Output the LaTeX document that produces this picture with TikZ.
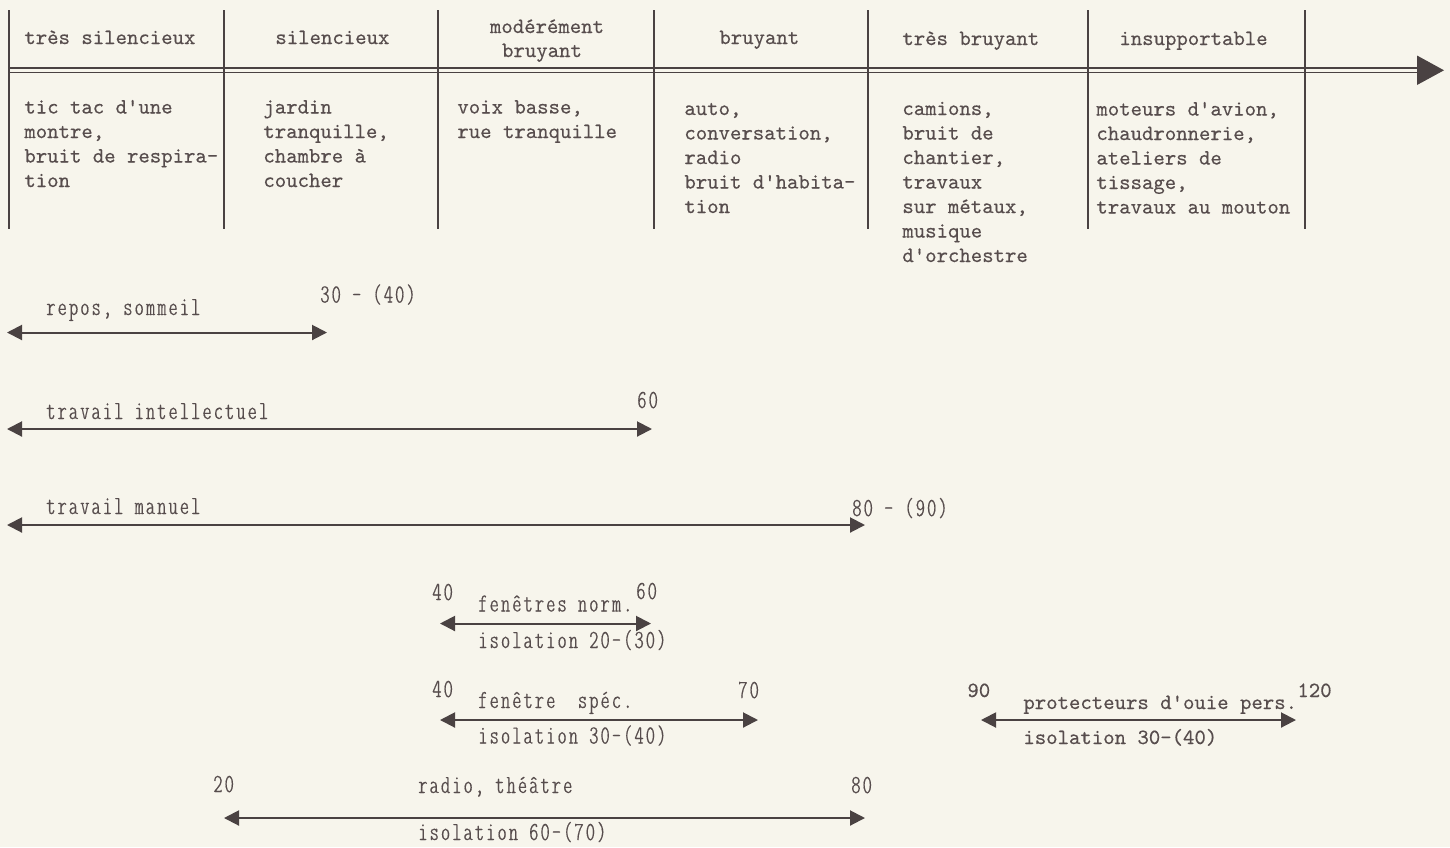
\documentclass[tikz,border=0pt]{standalone}
\usepackage{fontspec}
\usetikzlibrary{arrows.meta}
\newfontfamily\twfont[FakeBold=0.35]{lmmono10-regular.otf}
\newfontfamily\cnfont[FakeBold=0.45,LetterSpace=8.5]{lmmonoltcond10-regular.otf}
\definecolor{paper}{HTML}{F7F5EC}
\definecolor{ink}{HTML}{4A4242}
\definecolor{txt}{HTML}{574D4D}
\tikzset{
  tw/.style={font=\twfont\fontsize{10.86}{12}\selectfont, text=txt, inner sep=0pt, anchor=base west},
  cn/.style={font=\cnfont\fontsize{13}{15}\selectfont, text=txt, inner sep=0pt, anchor=base west},
  colline/.style={draw=ink, line width=0.75pt},
  axisline/.style={draw=ink, line width=0.75pt},
  spanarrow/.style={draw=ink, line width=1pt, {Triangle[length=7.5pt,width=7.5pt]}-{Triangle[length=7.5pt,width=7.5pt]}},
}
\begin{document}
\begin{tikzpicture}[x=0.5pt,y=-0.5pt]
\fill[paper] (0,0) rectangle (1450,847);
\useasboundingbox (0,0) rectangle (1450,847);

% column separators
\foreach \x [count=\i] in {9,224,438,654,868,1088,1305} {
  \coordinate (vt\i) at (\x,10);
  \coordinate (vb\i) at (\x,229);
  \draw[colline] (vt\i) -- (vb\i);
}

% double axis with arrow
\coordinate (axa1) at (9,68);   \coordinate (axb1) at (1420,68);
\coordinate (axa2) at (9,72.5); \coordinate (axb2) at (1420,72.5);
\draw[axisline] (axa1) -- (axb1);
\draw[axisline] (axa2) -- (axb2);
\coordinate (tipA) at (1444,70.3);
\coordinate (tipB) at (1417,55.5);
\coordinate (tipC) at (1417,85);
\fill[ink] (tipA) -- (tipB) -- (tipC) -- cycle;

% header
\node[tw] (h1) at (24,44) {très silencieux};
\node[tw] (h2) at (275,44) {silencieux};
\node[tw,anchor=base] (h3a) at (547,33) {modérément};
\node[tw,anchor=base] (h3b) at (542,57) {bruyant};
\node[tw] (h4) at (719,44) {bruyant};
\node[tw] (h5) at (902,45) {très bruyant};
\node[tw] (h6) at (1119,45) {insupportable};

% body columns
\foreach \t [count=\i] in {{tic tac d'une},{montre,},{bruit de respira-},{tion}}
  \node[tw] (b1-\i) at (24,{113.5+24.5*(\i-1)}) {\t};
\foreach \t [count=\i] in {{jardin},{tranquille,},{chambre à},{coucher}}
  \node[tw] (b2-\i) at (263,{113.5+24.5*(\i-1)}) {\t};
\foreach \t [count=\i] in {{voix basse,},{rue tranquille}}
  \node[tw] (b3-\i) at (457,{113.5+24.5*(\i-1)}) {\t};
\foreach \t [count=\i] in {{auto,},{conversation,},{radio},{bruit d'habita-},{tion}}
  \node[tw] (b4-\i) at (684,{115+24.5*(\i-1)}) {\t};
\foreach \t [count=\i] in {{camions,},{bruit de},{chantier,},{travaux},{sur métaux,},{musique},{d'orchestre}}
  \node[tw] (b5-\i) at (902,{115+24.5*(\i-1)}) {\t};
\foreach \t [count=\i] in {{moteurs d'avion,},{chaudronnerie,},{ateliers de},{tissage,},{travaux au mouton}}
  \node[tw] (b6-\i) at (1096,{115.5+24.5*(\i-1)}) {\t};

% repos, sommeil
\node[cn] (l1) at (46,315) {repos, sommeil};
\node[cn] (n1) at (320,302.5) {30 - (40)};
\coordinate (s1a) at (7,332.5); \coordinate (s1b) at (327,332.5);
\draw[spanarrow] (s1a) -- (s1b);

% travail intellectuel
\node[cn] (l2) at (46,419) {travail intellectuel};
\node[cn] (n2) at (637,408) {60};
\coordinate (s2a) at (7,429); \coordinate (s2b) at (652,429);
\draw[spanarrow] (s2a) -- (s2b);

% travail manuel
\node[cn] (l3) at (46,514) {travail manuel};
\node[cn] (n3) at (852,516) {80 - (90)};
\coordinate (s3a) at (7,525); \coordinate (s3b) at (865,525);
\draw[spanarrow] (s3a) -- (s3b);

% fenetres norm.
\node[cn] (n4a) at (432,600) {40};
\node[cn] (n4b) at (636,599) {60};
\node[cn] (l4) at (478,611.5) {fenêtres norm.};
\coordinate (s4a) at (440,623.5); \coordinate (s4b) at (651,623.5);
\draw[spanarrow] (s4a) -- (s4b);
\node[cn] (i4) at (478,648) {isolation 20-(30)};

% fenetre spec.
\node[cn] (n5a) at (432,697) {40};
\node[cn] (n5b) at (738,698) {70};
\node[cn] (l5) at (478,708) {fenêtre\ \ spéc.};
\coordinate (s5a) at (440,720); \coordinate (s5b) at (758,720);
\draw[spanarrow] (s5a) -- (s5b);
\node[cn] (i5) at (478,743.5) {isolation 30-(40)};

% protecteurs
\node[tw] (n6a) at (967,697) {90};
\node[tw] (n6b) at (1297,697) {120};
\node[tw] (l6) at (1023,709) {protecteurs d'ouie pers.};
\coordinate (s6a) at (981,720); \coordinate (s6b) at (1296,720);
\draw[spanarrow] (s6a) -- (s6b);
\node[tw] (i6) at (1023,744) {isolation 30-(40)};

% radio, theatre
\node[cn] (n7a) at (213,792) {20};
\node[cn] (n7b) at (851,793) {80};
\node[cn] (l7) at (418,793) {radio, théâtre};
\coordinate (s7a) at (224,818); \coordinate (s7b) at (865,818);
\draw[spanarrow] (s7a) -- (s7b);
\node[cn] (i7) at (418,840) {isolation 60-(70)};
\end{tikzpicture}
\end{document}
